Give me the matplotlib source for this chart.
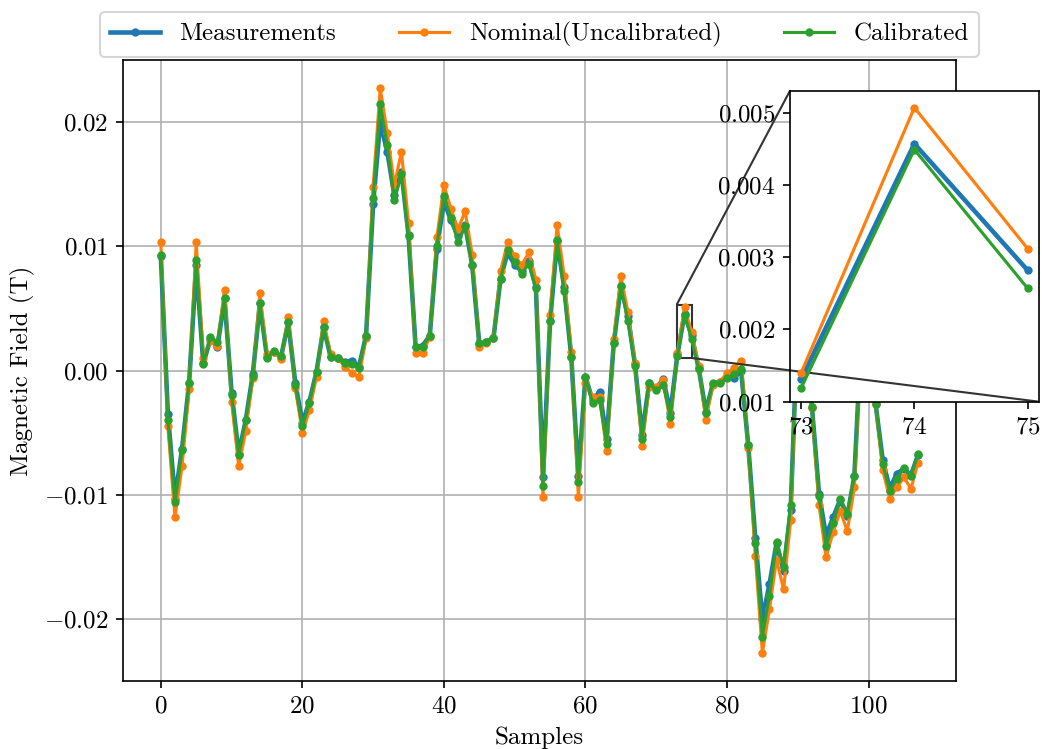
import numpy as np
import matplotlib
matplotlib.use("Agg")
import matplotlib.pyplot as plt
from matplotlib.ticker import MultipleLocator
from mpl_toolkits.axes_grid1.inset_locator import mark_inset

plt.rcParams['font.family'] = 'serif'
plt.rcParams['font.serif'] = ['cmr10']
plt.rcParams['mathtext.fontset'] = 'cm'
plt.rcParams['axes.formatter.use_mathtext'] = True
plt.rcParams['font.size'] = 12

# magnetic field readings per sample (T)
measurements = [
    0.0092, -0.0035, -0.0103, -0.0063, -0.0010, 0.0085, 0.0006, 0.0025, 0.0019, 0.0058,
    -0.0018, -0.0067, -0.0040, -0.0003, 0.0054, 0.0011, 0.0015, 0.0011, 0.0039, -0.0010,
    -0.0042, -0.0025, -0.0001, 0.0035, 0.0011, 0.0010, 0.0007, 0.0008, 0.0003, 0.0028,
    0.0134, 0.0200, 0.0176, 0.0141, 0.0160, 0.0109, 0.0019, 0.0020, 0.0028, 0.0098,
    0.0136, 0.0121, 0.0108, 0.0117, 0.0085, 0.0021, 0.0023, 0.0026, 0.0074, 0.0095,
    0.0085, 0.0080, 0.0088, 0.0067, -0.0086, 0.0040, 0.0104, 0.0067, 0.0011, -0.0085,
    -0.0005, -0.0024, -0.0017, -0.0055, 0.0022, 0.0068, 0.0044, 0.0005, -0.0052, -0.0010,
    -0.0014, -0.0007, -0.0034, 0.00131, 0.00457, 0.00282, 0.0002, -0.0033, -0.0011, -0.0009,
    -0.0005, -0.0006, 0.0000, -0.0060, -0.0135, -0.0200, -0.0172, -0.0139, -0.0161, -0.0112,
    0.0040, 0.0030, -0.0029, -0.0099, -0.0133, -0.0118, -0.0104, -0.0117, -0.0085, 0.0030,
    0.0040, -0.0027, -0.0072, -0.0095, -0.0083, -0.0079, -0.0084, -0.0068,
]
nominal = [
    0.0103, -0.0045, -0.0118, -0.0077, -0.0015, 0.0103, 0.0010, 0.0024, 0.0020, 0.0065,
    -0.0025, -0.0077, -0.0049, -0.0006, 0.0062, 0.0013, 0.0015, 0.0009, 0.0043, -0.0014,
    -0.0050, -0.0032, -0.0005, 0.0040, 0.0013, 0.0010, 0.0003, -0.0002, -0.0005, 0.0026,
    0.0148, 0.0227, 0.0191, 0.0149, 0.0176, 0.0119, 0.0014, 0.0014, 0.0027, 0.0107,
    0.0149, 0.0130, 0.0114, 0.0128, 0.0093, 0.0019, 0.0022, 0.0026, 0.0080, 0.0103,
    0.0092, 0.0085, 0.0095, 0.0073, -0.0102, 0.0045, 0.0117, 0.0076, 0.0015, -0.0102,
    -0.0010, -0.0021, -0.0021, -0.0065, 0.0025, 0.0076, 0.0047, 0.0006, -0.0061, -0.0013,
    -0.0013, -0.0008, -0.0043, 0.00140, 0.00507, 0.00312, 0.0004, -0.0040, -0.0012, -0.0009,
    -0.0002, 0.0002, 0.0008, -0.0062, -0.0149, -0.0227, -0.0192, -0.0152, -0.0176, -0.0120,
    0.0042, 0.0032, -0.0030, -0.0108, -0.0150, -0.0130, -0.0113, -0.0129, -0.0094, 0.0033,
    0.0044, -0.0027, -0.0080, -0.0103, -0.0094, -0.0086, -0.0095, -0.0074,
]
calibrated = [
    0.0093, -0.0040, -0.0106, -0.0064, -0.0010, 0.0089, 0.0005, 0.0027, 0.0023, 0.0058,
    -0.0020, -0.0068, -0.0040, -0.0004, 0.0054, 0.0010, 0.0016, 0.0012, 0.0039, -0.0012,
    -0.0045, -0.0026, -0.0001, 0.0035, 0.0011, 0.0010, 0.0006, 0.0005, 0.0002, 0.0028,
    0.0139, 0.0214, 0.0181, 0.0137, 0.0158, 0.0108, 0.0019, 0.0019, 0.0028, 0.0100,
    0.0140, 0.0123, 0.0103, 0.0116, 0.0085, 0.0022, 0.0023, 0.0026, 0.0074, 0.0097,
    0.0087, 0.0078, 0.0086, 0.0066, -0.0093, 0.0040, 0.0105, 0.0064, 0.0011, -0.0090,
    -0.0005, -0.0026, -0.0024, -0.0059, 0.0022, 0.0068, 0.0040, 0.0004, -0.0055, -0.0010,
    -0.0016, -0.0012, -0.0037, 0.00119, 0.00449, 0.00257, 0.0001, -0.0034, -0.0010, -0.0010,
    -0.0006, -0.0003, 0.0001, -0.0060, -0.0139, -0.0214, -0.0181, -0.0138, -0.0158, -0.0108,
    0.0041, 0.0030, -0.0029, -0.0101, -0.0141, -0.0123, -0.0103, -0.0115, -0.0085, 0.0030,
    0.0040, -0.0027, -0.0075, -0.0097, -0.0087, -0.0078, -0.0085, -0.0067,
]
samples = np.arange(len(measurements))

# zoom window
zoom_start, zoom_end = 73, 75

fig = plt.figure(figsize=(1042 / 150, 749 / 150), dpi=150)
ax = fig.add_axes([0.118, 0.0908, 0.7994, 0.829])


def draw(a, s=slice(None)):
    a.plot(samples[s], measurements[s], color='C0', marker='.', linewidth=2.2, label='Measurements')
    a.plot(samples[s], nominal[s], color='C1', marker='.', linewidth=1.5, label='Nominal(Uncalibrated)')
    a.plot(samples[s], calibrated[s], color='C2', marker='.', linewidth=1.5, label='Calibrated')


draw(ax)
ax.set_xlabel('Samples')
ax.set_ylabel('Magnetic Field (T)')
ax.grid(True)
ax.legend(loc='lower center', bbox_to_anchor=(0.5, 1.005), ncol=3, borderaxespad=0,
          columnspacing=2.5)

# zoomed inset
axins = fig.add_axes([0.758, 0.4637, 0.239, 0.4148])
draw(axins, slice(zoom_start, zoom_end + 1))
axins.set_xlim(72.9, 75.1)
axins.set_ylim(0.001, 0.0053)
axins.set_xticks([73, 74, 75])
axins.yaxis.set_major_locator(MultipleLocator(0.001))
mark_inset(ax, axins, loc1=2, loc2=4, fc='none', ec='0.2', lw=1)

fig.savefig('out.png', dpi=150)
